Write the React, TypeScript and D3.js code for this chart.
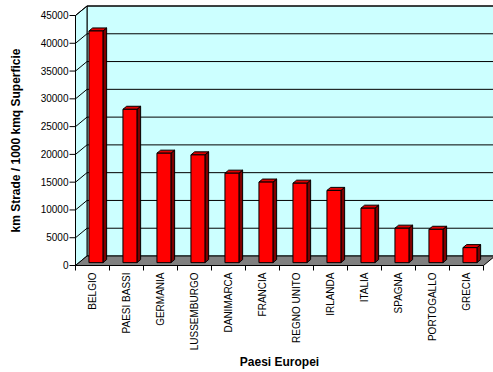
import React from "react";
import * as d3 from "d3";

const countries = [
  "BELGIO", "PAESI BASSI", "GERMANIA", "LUSSEMBURGO", "DANIMARCA", "FRANCIA",
  "REGNO UNITO", "IRLANDA", "ITALIA", "SPAGNA", "PORTOGALLO", "GRECIA",
];
const kmPer1000 = [41700, 27600, 19700, 19400, 16100, 14500, 14300, 13000, 9800, 6200, 6000, 2700];
const yTicks = [0, 5000, 10000, 15000, 20000, 25000, 30000, 35000, 40000, 45000];

const W = 493;
const H = 372;
const X0 = 75.5;
const X1 = 483.5;
const Y_TOP = 15.5;
const Y_BASE = 265.5;
// depth offset of the back wall
const DX = 11.5;
const DY = -9.5;
// depth fractions for the bar front and back faces
const F1 = 0.3;
const F2 = 0.62;

const FONT = "'Liberation Sans', Arial, sans-serif";

export default function App() {
  const x = d3.scaleBand<string>().domain(countries).range([X0, X1]).paddingInner(0).paddingOuter(0);
  const y = d3.scaleLinear().domain([0, 45000]).range([Y_BASE, Y_TOP]);
  const barW = 14;

  const pt = (px: number, py: number, f: number) => `${px + DX * f},${py + DY * f}`;

  return (
    <svg width={W} height={H} style={{ position: "absolute", left: 0, top: 0, background: "#fff" }}>
      {/* back wall */}
      <polygon
        points={`${X0 + DX},${Y_TOP + DY} ${W + 5},${Y_TOP + DY} ${W + 5},${Y_BASE + DY} ${X0 + DX},${Y_BASE + DY}`}
        fill="#ccffff"
        stroke="#000"
        strokeWidth={1}
      />
      {/* side wall */}
      <polygon
        points={`${X0},${Y_TOP} ${X0 + DX},${Y_TOP + DY} ${X0 + DX},${Y_BASE + DY} ${X0},${Y_BASE}`}
        fill="#ccffff"
        stroke="#000"
        strokeWidth={1}
      />
      {/* gridlines */}
      {yTicks.slice(1).map((t) => (
        <polyline
          key={`g${t}`}
          points={`${X0},${y(t)} ${X0 + DX},${y(t) + DY} ${W + 5},${y(t) + DY}`}
          fill="none"
          stroke="#000"
          strokeWidth={1}
        />
      ))}
      {/* floor */}
      <polygon
        points={`${X0},${Y_BASE} ${X0 + DX},${Y_BASE + DY} ${X1 + DX},${Y_BASE + DY} ${X1},${Y_BASE}`}
        fill="#808080"
        stroke="#000"
        strokeWidth={1}
      />
      {/* bars */}
      {countries.map((c, i) => {
        const v = kmPer1000[i];
        const cx = (x(c) as number) + x.bandwidth() / 2;
        const l = cx - barW / 2;
        const r = cx + barW / 2;
        const yt = y(v);
        const yb = y(0);
        return (
          <g key={c} stroke="#000" strokeWidth={1} strokeLinejoin="round">
            <polygon points={`${pt(r, yb, F1)} ${pt(r, yb, F2)} ${pt(r, yt, F2)} ${pt(r, yt, F1)}`} fill="#800000" />
            <polygon points={`${pt(l, yt, F1)} ${pt(r, yt, F1)} ${pt(r, yt, F2)} ${pt(l, yt, F2)}`} fill="#e00000" />
            <polygon points={`${pt(l, yb, F1)} ${pt(r, yb, F1)} ${pt(r, yt, F1)} ${pt(l, yt, F1)}`} fill="#ff0000" />
          </g>
        );
      })}
      {/* y axis */}
      <line x1={X0} x2={X0} y1={Y_TOP} y2={Y_BASE} stroke="#000" />
      {yTicks.map((t) => (
        <g key={`t${t}`}>
          <line x1={X0 - 6} x2={X0} y1={y(t)} y2={y(t)} stroke="#000" />
          <text x={X0 - 7} y={y(t)} dy="0.35em" textAnchor="end" fontFamily={FONT} fontSize={10} fill="#000">
            {t}
          </text>
        </g>
      ))}
      {/* x axis */}
      <line x1={X0} x2={X1} y1={Y_BASE} y2={Y_BASE} stroke="#000" />
      {countries.map((c, i) => (
        <line key={`xt${c}`} x1={x(c) as number} x2={x(c) as number} y1={Y_BASE} y2={Y_BASE + 5} stroke="#000" />
      ))}
      <line x1={X1} x2={X1} y1={Y_BASE} y2={Y_BASE + 5} stroke="#000" />
      {countries.map((c) => {
        const cx = (x(c) as number) + x.bandwidth() / 2;
        return (
          <text
            key={`xl${c}`}
            transform={`translate(${cx},${Y_BASE + 7}) rotate(-90)`}
            dy="0.35em"
            textAnchor="end"
            fontFamily={FONT}
            fontSize={10}
            fill="#000"
          >
            {c}
          </text>
        );
      })}
      {/* axis titles */}
      <text
        transform={`translate(16,${(Y_TOP + Y_BASE) / 2}) rotate(-90)`}
        textAnchor="middle"
        dy="0.35em"
        fontFamily={FONT}
        fontSize={12}
        fontWeight="bold"
        fill="#000"
      >
        km Strade / 1000 kmq Superficie
      </text>
      <text
        x={(X0 + X1) / 2}
        y={362}
        dy="0.35em"
        textAnchor="middle"
        fontFamily={FONT}
        fontSize={12}
        fontWeight="bold"
        fill="#000"
      >
        Paesi Europei
      </text>
    </svg>
  );
}
